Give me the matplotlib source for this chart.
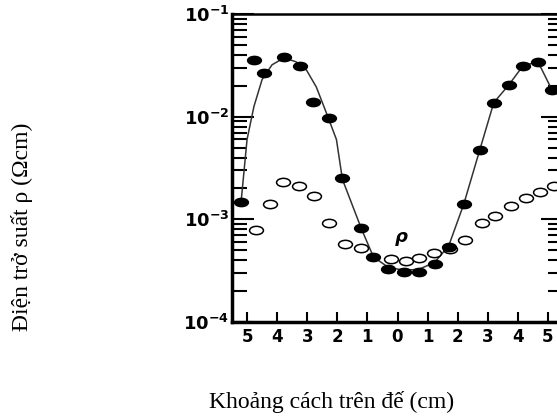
import matplotlib
matplotlib.use('Agg')
import matplotlib.pyplot as plt
from matplotlib.path import Path
from matplotlib.transforms import Affine2D

# filled points (black)
fill_x = [-5.2, -4.77, -4.43, -3.77, -3.23, -2.8, -2.27, -1.83, -1.2, -0.8,
          -0.3, 0.2, 0.7, 1.23, 1.7, 2.2, 2.73, 3.2, 3.7, 4.17, 4.67, 5.13]
fill_y = [1.46e-3, 3.57e-2, 2.67e-2, 3.83e-2, 3.13e-2, 1.4e-2, 9.8e-3, 2.5e-3,
          8.2e-4, 4.3e-4, 3.3e-4, 3.1e-4, 3.1e-4, 3.7e-4, 5.4e-4, 1.4e-3,
          4.7e-3, 1.37e-2, 2.04e-2, 3.13e-2, 3.42e-2, 1.83e-2]

# open points
open_x = [-4.7, -4.23, -3.8, -3.27, -2.77, -2.27, -1.75, -1.2, -0.2, 0.27,
          0.73, 1.2, 1.75, 2.23, 2.8, 3.23, 3.77, 4.27, 4.73, 5.2]
open_y = [7.8e-4, 1.4e-3, 2.3e-3, 2.1e-3, 1.67e-3, 9.3e-4, 5.7e-4, 5.3e-4,
          4.1e-4, 3.9e-4, 4.2e-4, 4.7e-4, 5.1e-4, 6.3e-4, 9.3e-4, 1.07e-3,
          1.35e-3, 1.6e-3, 1.85e-3, 2.1e-3]

# fitted curve
curve_x = [-5.2, -5.0, -4.77, -4.5, -4.17, -3.77, -3.37, -3.03, -2.7, -2.37,
           -2.03, -1.83, -1.2, -0.8, -0.3, 0.2, 0.7, 1.23, 1.7, 2.2, 2.73,
           3.2, 3.7, 4.17, 4.67, 5.13]
curve_y = [1.46e-3, 6.0e-3, 1.26e-2, 2.3e-2, 3.2e-2, 3.74e-2, 3.42e-2, 2.86e-2,
           1.95e-2, 1.1e-2, 6.0e-3, 2.45e-3, 8.1e-4, 4.3e-4, 3.4e-4, 3.2e-4,
           3.25e-4, 3.8e-4, 5.5e-4, 1.4e-3, 4.7e-3, 1.37e-2, 2.04e-2, 3.13e-2,
           3.42e-2, 1.83e-2]

xticks = [-5, -4, -3, -2, -1, 0, 1, 2, 3, 4, 5]
xlabels = ['5', '4', '3', '2', '1', '0', '1', '2', '3', '4', '5']
yticks = [1e-4, 1e-3, 1e-2, 1e-1]
ylabels = [r'$\mathbf{10^{-4}}$', r'$\mathbf{10^{-3}}$',
           r'$\mathbf{10^{-2}}$', r'$\mathbf{10^{-1}}$']

# squashed ellipse marker
ell = Affine2D().scale(1.0, 0.6).transform_path(Path.unit_circle())

fig = plt.figure(figsize=(5.57, 4.17), dpi=100)
ax = fig.add_axes([232 / 557, 95 / 417, 331 / 557, 308 / 417])

ax.plot(curve_x, curve_y, color='#333333', linewidth=1.1, zorder=2)
ax.plot(open_x, open_y, linestyle='none', marker=ell, markersize=10,
        markerfacecolor='white', markeredgecolor='black',
        markeredgewidth=1.1, zorder=3)
ax.plot(fill_x, fill_y, linestyle='none', marker=ell, markersize=10,
        markerfacecolor='black', markeredgecolor='black', zorder=4)

# rho label inside the plot
ax.text(0.13, 6.7e-4, 'ρ', fontsize=13, fontweight='bold', style='italic',
        ha='center', va='center')

ax.set_yscale('log')
ax.set_xlim(-5.5, 5.5)
ax.set_ylim(1e-4, 1e-1)

ax.set_xticks(xticks)
ax.set_xticklabels(xlabels, fontsize=12, fontweight='bold')
ax.set_yticks(yticks)
ax.set_yticklabels(ylabels, fontsize=13)

ax.tick_params(axis='x', which='major', direction='in', length=7, width=1.5,
               pad=4)
ax.tick_params(axis='x', which='minor', bottom=False, top=False)
ax.tick_params(axis='y', which='major', direction='in', length=16, width=1.5,
               left=True, right=True, pad=2)
ax.tick_params(axis='y', which='minor', direction='in', length=11, width=1.5,
               left=True, right=True)

ax.spines['left'].set_linewidth(2.5)
ax.spines['bottom'].set_linewidth(2.5)
ax.spines['top'].set_linewidth(1.8)
ax.spines['right'].set_linewidth(1.8)

fig.text(332 / 557, 15 / 417, 'Khoảng cách trên đế (cm)',
         fontsize=17, family='Liberation Serif', ha='center', va='center')
fig.text(22 / 557, (417 - 227) / 417, 'Điện trở suất ρ (Ωcm)',
         fontsize=17, family='Liberation Serif', rotation=90,
         ha='center', va='center')

fig.savefig('out.png', dpi=100)
